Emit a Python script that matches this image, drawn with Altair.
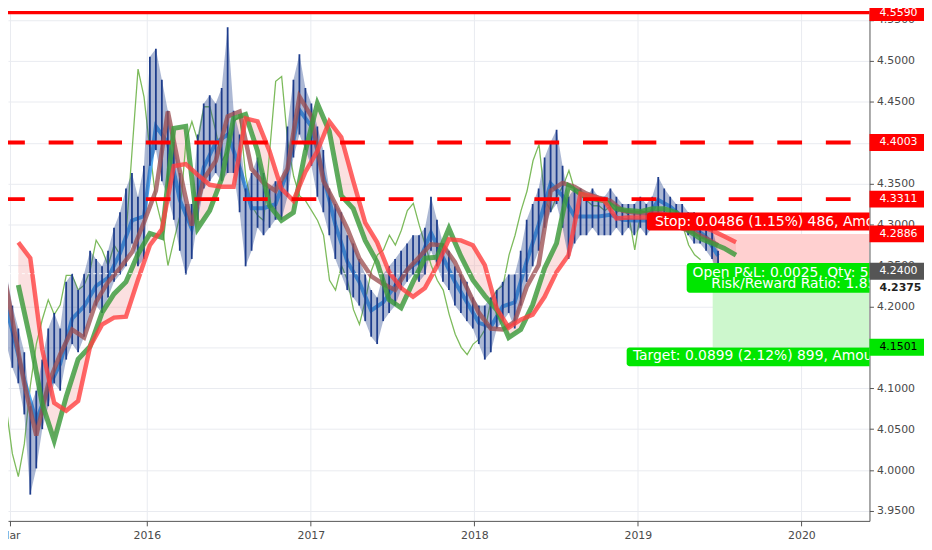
import altair as alt
import pandas as pd

PLOT_W, PLOT_H = 869, 515
FONT = "DejaVu Sans"

# ---------------- price bars (low / high), roughly two-week sampling ----------------
bar_low = [4.181, 4.154, 4.125, 4.106, 4.068, 3.970, 4.002, 4.050, 4.078, 4.106,
           4.097, 4.135, 4.154, 4.144, 4.163, 4.192, 4.201, 4.192, 4.211, 4.230,
           4.239, 4.249, 4.277, 4.249, 4.258, 4.372, 4.391, 4.353, 4.334, 4.306,
           4.268, 4.239, 4.258, 4.306, 4.344, 4.353, 4.363, 4.353, 4.363, 4.363,
           4.315, 4.249, 4.268, 4.296, 4.287, 4.296, 4.306, 4.306, 4.334, 4.382,
           4.410, 4.391, 4.372, 4.334, 4.315, 4.287, 4.258, 4.239, 4.220, 4.211,
           4.201, 4.182, 4.163, 4.154, 4.182, 4.192, 4.201, 4.220, 4.230, 4.239,
           4.230, 4.239, 4.268, 4.249, 4.230, 4.220, 4.201, 4.192, 4.182, 4.173,
           4.154, 4.135, 4.144, 4.173, 4.182, 4.192, 4.173, 4.201, 4.230, 4.249,
           4.268, 4.296, 4.315, 4.325, 4.296, 4.258, 4.277, 4.287, 4.287, 4.296,
           4.287, 4.287, 4.287, 4.296, 4.287, 4.296, 4.287, 4.296, 4.287, 4.296,
           4.315, 4.315, 4.306, 4.296, 4.296, 4.287, 4.277, 4.277, 4.268, 4.258,
           4.238]
bar_high = [4.277, 4.241, 4.201, 4.173, 4.144, 4.078, 4.097, 4.135, 4.173, 4.192,
            4.173, 4.230, 4.240, 4.220, 4.240, 4.268, 4.258, 4.249, 4.268, 4.296,
            4.315, 4.344, 4.363, 4.334, 4.372, 4.505, 4.515, 4.477, 4.439, 4.401,
            4.363, 4.325, 4.325, 4.410, 4.448, 4.458, 4.448, 4.467, 4.541, 4.439,
            4.410, 4.344, 4.363, 4.382, 4.363, 4.344, 4.353, 4.353, 4.420, 4.477,
            4.508, 4.467, 4.448, 4.420, 4.391, 4.344, 4.325, 4.315, 4.287, 4.277,
            4.258, 4.239, 4.220, 4.211, 4.239, 4.249, 4.258, 4.268, 4.277, 4.287,
            4.287, 4.296, 4.334, 4.306, 4.277, 4.268, 4.249, 4.239, 4.230, 4.211,
            4.201, 4.201, 4.211, 4.220, 4.230, 4.239, 4.239, 4.268, 4.306, 4.325,
            4.344, 4.382, 4.401, 4.416, 4.372, 4.334, 4.344, 4.344, 4.334, 4.344,
            4.334, 4.334, 4.344, 4.334, 4.325, 4.325, 4.325, 4.334, 4.325, 4.334,
            4.358, 4.344, 4.334, 4.325, 4.325, 4.315, 4.315, 4.306, 4.306, 4.296,
            4.268]

# ---------------- indicator lines ----------------
tenkan = [4.225, 4.170, 4.110, 4.060, 4.100, 4.130, 4.185, 4.200, 4.225, 4.235,
          4.265, 4.305, 4.310, 4.420, 4.400, 4.330, 4.295, 4.370, 4.400, 4.410,
          4.370, 4.320, 4.320, 4.325, 4.365, 4.440, 4.420, 4.360, 4.300, 4.255,
          4.230, 4.195, 4.205, 4.225, 4.245, 4.255, 4.290, 4.260, 4.230, 4.205,
          4.180, 4.175, 4.200, 4.205, 4.255, 4.300, 4.350, 4.335, 4.310, 4.310,
          4.310, 4.312, 4.306, 4.305, 4.305, 4.330, 4.322, 4.310, 4.296, 4.285,
          4.262]
kijun = [4.2638, 4.1838, 4.1051, 4.0421, 4.1051, 4.1414, 4.1717, 4.1620, 4.2056, 4.2299,
         4.2468, 4.2662, 4.3025, 4.3413, 4.4382, 4.3655, 4.2989, 4.3558, 4.3777, 4.4322,
         4.4382, 4.3680, 4.3510, 4.3413, 4.3680, 4.4564, 4.4322, 4.3534, 4.3256, 4.2953,
         4.2589, 4.2371, 4.2274, 4.2202, 4.2444, 4.2601, 4.2759, 4.2747, 4.2541, 4.2226,
         4.1923, 4.1729, 4.1717, 4.1814, 4.2238, 4.2505, 4.3413, 4.3510, 4.3462, 4.3377,
         4.3328, 4.3292, 4.3171, 4.3147, 4.3135, 4.3147, 4.3110, 4.2953, 4.2904, 4.2832,
         4.2747]
span_a = [4.2262, 4.1596, 4.0809, 4.0360, 4.0893, 4.1354, 4.1511, 4.1923, 4.2153, 4.2299,
          4.2638, 4.2892, 4.2844, 4.4176, 4.4200, 4.2953, 4.3171, 4.3558, 4.4297, 4.4346,
          4.3898, 4.3231, 4.3050, 4.3147, 4.3898, 4.4479, 4.4140, 4.3353, 4.3195, 4.2807,
          4.2541, 4.2081, 4.1984, 4.2299, 4.2589, 4.2601, 4.2953, 4.2614, 4.2323, 4.2129,
          4.1959, 4.1620, 4.1717, 4.2020, 4.2468, 4.2771, 4.3474, 4.3377, 4.3316, 4.3292,
          4.3195, 4.3171, 4.3159, 4.3195, 4.3195, 4.3147, 4.2929, 4.2832, 4.2771, 4.2711,
          4.2626]
span_b = [4.2783, 4.2589, 4.1475, 4.0821, 4.0724, 4.0845, 4.1511, 4.1778, 4.1863, 4.1875,
          4.2323, 4.2747, 4.2941, 4.3716, 4.3740, 4.3607, 4.3486, 4.3462, 4.3462, 4.4297,
          4.4261, 4.3898, 4.3437, 4.3292, 4.3643, 4.3898, 4.4261, 4.4067, 4.3534, 4.3025,
          4.2783, 4.2420, 4.2226, 4.2117, 4.2226, 4.2492, 4.2820, 4.2807, 4.2747, 4.2505,
          4.1972, 4.1741, 4.1838, 4.1899, 4.2117, 4.2420, 4.2626, 4.3377, 4.3340, 4.3292,
          4.3074, 4.3086, 4.3086, 4.3086, 4.3074, 4.3038, 4.3001, 4.2977, 4.2929, 4.2856,
          4.2783]
chikou = [4.135, 4.075, 4.020, 3.992, 4.032, 4.103, 4.154, 4.184, 4.208, 4.190,
          4.202, 4.238, 4.238, 4.220, 4.226, 4.244, 4.281, 4.269, 4.250, 4.275,
          4.263, 4.287, 4.390, 4.490, 4.456, 4.390, 4.329, 4.299, 4.250, 4.281,
          4.311, 4.402, 4.426, 4.402, 4.444, 4.444, 4.414, 4.378, 4.390, 4.426,
          4.432, 4.359, 4.323, 4.311, 4.305, 4.390, 4.475, 4.481, 4.402, 4.359,
          4.335, 4.329, 4.317, 4.305, 4.287, 4.232, 4.220, 4.250, 4.232, 4.196,
          4.178, 4.208, 4.244, 4.263, 4.269, 4.287, 4.275, 4.293, 4.317, 4.326,
          4.299, 4.275, 4.250, 4.232, 4.220, 4.190, 4.166, 4.150, 4.141, 4.154,
          4.160, 4.172, 4.208, 4.220, 4.226, 4.263, 4.287, 4.317, 4.341, 4.378,
          4.398, 4.329, 4.317, 4.335, 4.347, 4.366, 4.341, 4.335, 4.329, 4.323,
          4.323, 4.317, 4.323, 4.315, 4.319, 4.311, 4.269, 4.317, 4.315, 4.311,
          4.315, 4.307, 4.311, 4.303, 4.299, 4.275, 4.263, 4.257]

# ---------------- levels, axis ticks and labels ----------------
level_solid = [4.5590]
level_dashed = [4.4003, 4.3311]
entry_price = [4.2400]
y_ticks = [3.95, 4.00, 4.05, 4.10, 4.15, 4.20, 4.25, 4.30, 4.35, 4.40, 4.45, 4.50, 4.55]
x_ticks = [(2015, 3), (2016, 1), (2017, 1), (2018, 1), (2019, 1), (2020, 1)]

axis_label_text = ["4.5590", "4.4003", "4.3311", "4.2886", "4.2400", "4.1501"]
axis_label_pos = [4.5590, 4.4003, 4.3311, 4.2886, 4.2430, 4.1501]
axis_label_fill = ["#ff0000", "#ff0000", "#ff0000", "#ff0000", "#555555", "#00e600"]
axis_label_ink = ["#ffffff", "#ffffff", "#ffffff", "#ffffff", "#ffffff", "#000000"]
last_price_text = ["4.2375"]
last_price_pos = [4.2226]

# position tool (risk / reward zones)
zone_start = ["2019-06-17", "2019-06-17"]
zone_end = ["2020-05-31", "2020-05-31"]
zone_top = [4.2886, 4.2400]
zone_bottom = [4.2400, 4.1501]
zone_fill = ["#ffd0d0", "#cdf7cd"]

# info boxes
box_start = ["2019-01-21", "2019-04-20", "2018-12-07"]
box_top = [4.3147, 4.2529, 4.1499]
box_bottom = [4.2928, 4.2166, 4.1269]
box_fill = ["#ff0000", "#00e600", "#00e600"]
note_text = ["Stop: 0.0486 (1.15%) 486, Amount: 42171",
             "Open P&L: 0.0025, Qty: 51480",
             "Risk/Reward Ratio: 1.85",
             "Target: 0.0899 (2.12%) 899, Amount: 42171"]
note_date = ["2019-02-08", "2019-05-03", "2019-06-14", "2018-12-21"]
note_pos = [4.3037, 4.2410, 4.2274, 4.1390]


def dates(start, end, n):
    return pd.date_range(start, end, periods=n).strftime("%Y-%m-%dT%H:%M:%S")


price_df = pd.DataFrame({"date": dates("2015-02-08", "2019-06-29", len(bar_low)),
                         "low": bar_low, "high": bar_high})
tenkan_df = pd.DataFrame({"date": dates("2015-02-08", "2019-06-29", len(tenkan)), "v": tenkan})
kijun_df = pd.DataFrame({"date": dates("2015-02-08", "2019-06-29", len(kijun)), "v": kijun})
cloud_df = pd.DataFrame({"date": dates("2015-03-20", "2019-08-08", len(span_a)),
                         "a": span_a, "b": span_b})
chikou_df = pd.DataFrame({"date": dates("2015-02-08", "2019-05-21", len(chikou)), "v": chikou})
zone_df = pd.DataFrame({"x": zone_start, "x2": zone_end, "y": zone_top, "y2": zone_bottom,
                        "fill": zone_fill})
box_df = pd.DataFrame({"x": box_start, "x2": ["2020-06-14"] * 3, "y": box_top, "y2": box_bottom,
                       "fill": box_fill})
note_df = pd.DataFrame({"x": note_date, "y": note_pos, "t": note_text})
lab_df = pd.DataFrame({"pos": axis_label_pos, "t": axis_label_text,
                       "fill": axis_label_fill, "ink": axis_label_ink})
last_df = pd.DataFrame({"pos": last_price_pos, "t": last_price_text})

x_scale = alt.Scale(domain=["2015-02-25T00:00:00", "2020-06-01T00:00:00"], nice=False)
y_scale = alt.Scale(domain=[3.9379, 4.5618], zero=False, nice=False)

x_axis = alt.Axis(title=None, values=[alt.DateTime(year=y, month=m, date=1) for y, m in x_ticks],
                  labelExpr="month(datum.value) == 2 ? 'Mar' : timeFormat(datum.value, '%Y')",
                  labelFont=FONT, labelFontSize=11, labelColor="#4a4a4a",
                  tickColor="#555555", tickSize=5, domainColor="#555555", labelPadding=4,
                  grid=True, gridColor="#e9ebf0", labelFlush=False)
y_axis = alt.Axis(title=None, orient="right", values=y_ticks, format=".4f",
                  labelFont=FONT, labelFontSize=11, labelColor="#4a4a4a",
                  tickColor="#555555", tickSize=4, domainColor="#555555", labelPadding=3,
                  grid=True, gridColor="#e9ebf0")


def X(field, **kw):
    return alt.X(field, type="temporal", scale=x_scale, axis=x_axis, **kw)


def Y(field, **kw):
    return alt.Y(field, type="quantitative", scale=y_scale, axis=y_axis, **kw)


zones = alt.Chart(zone_df).mark_rect(clip=True).encode(
    x=X("x"), x2="x2:T", y=Y("y"), y2="y2:Q", color=alt.Color("fill:N", scale=None))

cloud = alt.Chart(cloud_df).mark_area(color="#f4a0a0", opacity=0.33, clip=True).encode(
    x=X("date"), y=Y("a"), y2="b:Q")

chikou_l = alt.Chart(chikou_df).mark_line(color="#7dbb5c", strokeWidth=1.3, clip=True).encode(
    x=X("date"), y=Y("v"))

tenkan_l = alt.Chart(tenkan_df).mark_line(color="#4fa6ee", strokeWidth=4, clip=True).encode(
    x=X("date"), y=Y("v"))

bar_band = alt.Chart(price_df).mark_area(color="#24448f", opacity=0.38, clip=True).encode(
    x=X("date"), y=Y("low"), y2="high:Q")

bars = alt.Chart(price_df).mark_rule(color="#1d3c8c", strokeWidth=1.8, clip=True).encode(
    x=X("date"), y=Y("low"), y2="high:Q")

kijun_l = alt.Chart(kijun_df).mark_line(color="#9c4f52", strokeWidth=4.5, opacity=0.78,
                                        clip=True).encode(x=X("date"), y=Y("v"))

span_a_l = alt.Chart(cloud_df).mark_line(color="#3b9a3b", strokeWidth=5, opacity=0.82,
                                         clip=True).encode(x=X("date"), y=Y("a"))

span_b_l = alt.Chart(cloud_df).mark_line(color="#ff4040", strokeWidth=4.5, opacity=0.8,
                                         clip=True).encode(x=X("date"), y=Y("b"))

solid_r = alt.Chart(pd.DataFrame({"v": level_solid})).mark_rule(
    color="#ff0000", strokeWidth=3.5).encode(y=Y("v"))
dashed_r = alt.Chart(pd.DataFrame({"v": level_dashed})).mark_rule(
    color="#ff0000", strokeWidth=4, strokeDash=[25, 24], strokeDashOffset=30).encode(y=Y("v"))
entry_r = alt.Chart(pd.DataFrame({"v": entry_price})).mark_rule(
    color="#ffffff", strokeWidth=1, strokeDash=[3, 3], opacity=0.9).encode(y=Y("v"))

boxes = alt.Chart(box_df).mark_rect(cornerRadius=3, clip=True).encode(
    x=X("x"), x2="x2:T", y=Y("y"), y2="y2:Q", color=alt.Color("fill:N", scale=None))
notes = alt.Chart(note_df).mark_text(align="left", baseline="middle", font=FONT, fontSize=14,
                                     color="#ffffff", clip=True).encode(
    x=X("x"), y=Y("y"), text="t:N")

BOX_PATH = "M-1,-0.3036L1,-0.3036L1,0.3036L-1,0.3036Z"
lab_boxes = alt.Chart(lab_df).mark_point(shape=BOX_PATH, size=3136, filled=True, opacity=1,
                                         strokeWidth=0).encode(
    x=alt.value(PLOT_W + 28), y=Y("pos"), color=alt.Color("fill:N", scale=None))
lab_text = alt.Chart(lab_df).mark_text(align="left", baseline="middle", font=FONT,
                                       fontSize=11).encode(
    x=alt.value(PLOT_W + 10), y=Y("pos"), text="t:N", color=alt.Color("ink:N", scale=None))
last_text = alt.Chart(last_df).mark_text(align="left", baseline="middle", font=FONT,
                                         fontSize=11, fontWeight="bold",
                                         color="#222222").encode(
    x=alt.value(PLOT_W + 10), y=Y("pos"), text="t:N")

chart = alt.layer(
    zones, cloud, chikou_l, tenkan_l, bar_band, bars, kijun_l, span_a_l, span_b_l,
    solid_r, dashed_r, entry_r, boxes, notes, lab_boxes, lab_text, last_text
).properties(
    width=PLOT_W, height=PLOT_H,
    autosize=alt.AutoSizeParams(type="none"),
    padding={"left": 0, "top": 0, "right": 55, "bottom": 27},
    background="#ffffff",
).configure_view(strokeWidth=0)

chart.save("out.html", embed_options={"renderer": "svg", "actions": False})
